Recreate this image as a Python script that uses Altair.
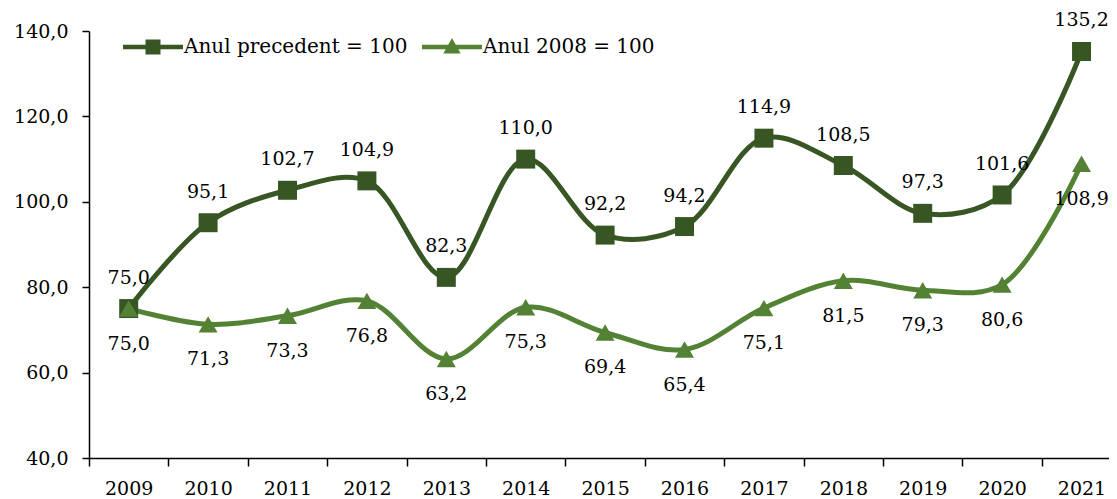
import altair as alt
import pandas as pd

years = list(range(2009, 2022))
series_names = ["Anul precedent = 100", "Anul 2008 = 100"]
prev_year = [75.0, 95.1, 102.7, 104.9, 82.3, 110.0, 92.2, 94.2, 114.9, 108.5, 97.3, 101.6, 135.2]
base_2008 = [75.0, 71.3, 73.3, 76.8, 63.2, 75.3, 69.4, 65.4, 75.1, 81.5, 79.3, 80.6, 108.9]
y_ticks = [40, 60, 80, 100, 120, 140]
boundaries = [y - 0.5 for y in years]

DARK = "#375623"
LIGHT = "#548235"
FONT = "DejaVu Serif"
FS = 19

df = pd.DataFrame({
    "year": years * 2,
    "value": prev_year + base_2008,
    "series": [n for n in series_names for _ in years],
    "order": [i for i in range(2) for _ in years],
})
df["label"] = df["value"].map(lambda v: f"{v:.1f}".replace(".", ","))
bdf = pd.DataFrame({"b": boundaries})
ldf = pd.DataFrame({"series": series_names})

# last category band is partly cut off at the right edge, as in the reference
xscale = alt.Scale(domain=[years[0] - 0.5, years[-1] + 0.346], nice=False, zero=False)
yscale = alt.Scale(domain=[40, 140], nice=False, zero=False)
cscale = alt.Scale(domain=series_names, range=[DARK, LIGHT])
sscale = alt.Scale(domain=series_names, range=["square", "triangle-up"])

x_axis = alt.Axis(values=years, format="d", ticks=False, grid=False, domainColor="black",
                  domainWidth=1.5, labelFont=FONT, labelFontSize=FS, labelColor="black",
                  labelPadding=21, title=None, orient="bottom")
y_axis = alt.Axis(values=y_ticks, labelExpr="replace(format(datum.value, '.1f'), '.', ',')",
                  grid=False, domainColor="black", domainWidth=1.5, tickColor="black",
                  tickWidth=1.5, tickSize=7, labelFont=FONT, labelFontSize=FS,
                  labelColor="black", labelPadding=14, title=None)

base = alt.Chart(df).encode(
    x=alt.X("year:Q", scale=xscale, axis=None),
    y=alt.Y("value:Q", scale=yscale, axis=y_axis),
)

lines = base.mark_line(interpolate="catmull-rom", strokeWidth=5).encode(
    x=alt.X("year:Q", scale=xscale, axis=x_axis),
    color=alt.Color("series:N", scale=cscale, legend=None),
    detail="series:N",
)

points = base.mark_point(filled=True, size=360, opacity=1).encode(
    color=alt.Color("series:N", scale=cscale, legend=None),
    shape=alt.Shape("series:N", scale=sscale, legend=None),
    order=alt.Order("order:Q"),
)

labels_top = base.mark_text(font=FONT, fontSize=FS, color="black", dy=-31).encode(
    text="label:N"
).transform_filter(alt.datum.series == series_names[0])
labels_bottom = base.mark_text(font=FONT, fontSize=FS, color="black", dy=35).encode(
    text="label:N"
).transform_filter(alt.datum.series == series_names[1])

ticks = alt.Chart(bdf).mark_point(opacity=0).encode(
    x=alt.X("b:Q", scale=xscale, axis=alt.Axis(values=boundaries, labels=False, ticks=True,
            tickSize=8, tickColor="black", tickWidth=1.5, domain=False, grid=False,
            title=None, orient="bottom")),
)

# legend-only layer: symbols = line segment with marker
sq_path = "M-1,-0.075H1V0.075H-1Z M-0.25,-0.25H0.25V0.25H-0.25Z"
tri_path = "M-1,-0.075H1V0.075H-1Z M0,-0.3L0.29,0.22L-0.29,0.22Z"
lscale = alt.Scale(domain=series_names, range=[sq_path, tri_path])
leg = alt.Legend(
    title=None, orient="none", legendX=34, legendY=-14, direction="horizontal",
    symbolSize=3600, symbolOpacity=1, symbolStrokeWidth=0, labelFont=FONT,
    labelFontSize=20, labelColor="black", labelLimit=400, columnPadding=14,
    labelOffset=1,
)
legend_layer = alt.Chart(ldf).mark_point(filled=True, opacity=0).encode(
    shape=alt.Shape("series:N", scale=lscale, legend=leg, sort=series_names),
    color=alt.Color("series:N", scale=cscale, legend=leg, sort=series_names),
)

chart = alt.layer(lines, points, labels_top, labels_bottom, ticks, legend_layer).resolve_axis(
    x="independent"
).resolve_scale(shape="independent", color="independent").properties(
    width=1020, height=427,
    autosize=alt.AutoSizeParams(type="none"),
    padding={"left": 81, "top": 23, "right": 0, "bottom": 41},
).configure_view(stroke=None)

chart.save("out.html", embed_options={"renderer": "svg", "actions": False})
